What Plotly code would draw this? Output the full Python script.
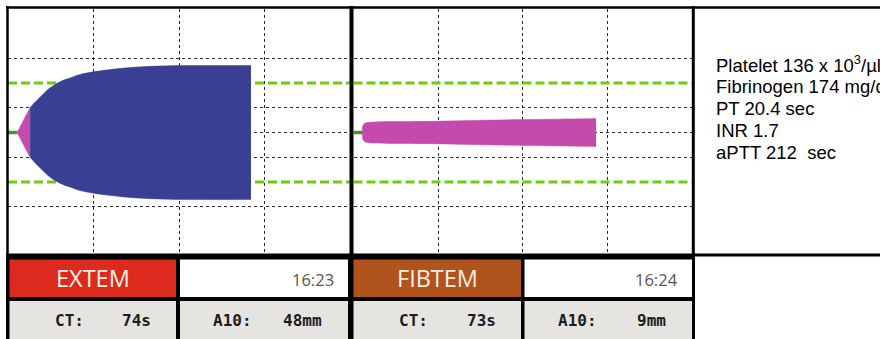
import plotly.graph_objects as go

# ---- assay results -------------------------------------------------------
assays = ["EXTEM", "FIBTEM"]
run_clock = ["16:23", "16:24"]
ct_seconds = [74, 73]
a10_mm = [48, 9]
header_colors = ["#dd2a1e", "#b1531d"]

# ---- amplitude traces: time (min) vs total clot amplitude (mm) -----------
# EXTEM, from CT until amplitude reaches 20 mm (clot formation phase)
extem_cft_t = [1.6, 2.0, 2.4, 2.8, 3.1]
extem_cft_amp = [3.5, 8, 12.5, 17, 20]
# EXTEM, from 20 mm onward
extem_t = [3.1, 3.8, 4.5, 5.2, 5.9, 6.6, 7.3, 8.0, 8.7, 10.1, 12.0, 14.4, 17.6, 22.4, 26.0, 34.1]
extem_amp = [20, 24.5, 28.5, 32.5, 36, 38.8, 41, 42.7, 44, 46.8, 48.9, 50.8, 52.6, 53.8, 54, 54]
# FIBTEM, never reaches 20 mm
fibtem_t = [1.3, 1.45, 1.7, 2.2, 3.0, 5.0, 11.2, 18, 24, 30, 34.4]
fibtem_amp = [4.8, 6.6, 7.6, 8.2, 8.5, 8.8, 9.0, 9.8, 10.4, 10.9, 11.3]

# grid and reference levels (half amplitude, mm)
time_grid = [12, 24, 36]
amp_grid = [-30, -10, 0, 10, 30]
ref_level = 20

# ---- laboratory values ---------------------------------------------------
lab_lines = [
    "Platelet 136 x 10<sup>3</sup>/µl",
    "Fibrinogen 174 mg/dl",
    "PT 20.4 sec",
    "INR 1.7",
    "aPTT 212\u00a0 sec",
]

W, H = 880, 339
BLUE = "#393f93"
PINK = "#c44bab"
GREEN_BASE = "#3a9a22"
GREEN_REF = "#6fcc0c"


def px(x):
    return x / W


def py(y):
    return 1 - y / H


fig = go.Figure()


def add_trace_set(xa, ya, pink_t, pink_amp, blue_t, blue_amp, ct_min):
    t_max = 48
    # reference lines at +/- 20 mm
    for s in (1, -1):
        fig.add_trace(go.Scatter(x=[0, t_max], y=[s * ref_level] * 2, mode="lines",
                                 line=dict(color=GREEN_REF, width=3, dash="9px,4px"),
                                 xaxis=xa, yaxis=ya, hoverinfo="skip"))
    # flat line before clotting time
    fig.add_trace(go.Scatter(x=[0, ct_min], y=[0, 0], mode="lines",
                             line=dict(color=GREEN_BASE, width=3.5),
                             xaxis=xa, yaxis=ya, hoverinfo="skip"))
    segments = [(pink_t, pink_amp, PINK)]
    if blue_t:
        segments.append((blue_t, blue_amp, BLUE))
    for t, amp, col in segments:
        fig.add_trace(go.Scatter(x=t, y=[-a / 2 for a in amp], mode="lines",
                                 line=dict(color=col, width=0.5, shape="spline", smoothing=1.0),
                                 xaxis=xa, yaxis=ya, hoverinfo="skip"))
        fig.add_trace(go.Scatter(x=t, y=[a / 2 for a in amp], mode="lines",
                                 line=dict(color=col, width=0.5, shape="spline", smoothing=1.0),
                                 fill="tonexty", fillcolor=col,
                                 xaxis=xa, yaxis=ya, hoverinfo="skip"))


ct0 = ct_seconds[0] / 60
ct1 = ct_seconds[1] / 60
add_trace_set("x", "y", [ct0] + extem_cft_t, [0] + extem_cft_amp, extem_t, extem_amp, ct0)
add_trace_set("x2", "y2", [ct1] + fibtem_t, [0] + fibtem_amp, None, None, ct1)


def grid_x(domain, anchor):
    return dict(domain=domain, range=[0, 48], tickvals=time_grid, showticklabels=False,
                ticks="", showgrid=True, gridcolor="#2a2a2a", gridwidth=1,
                griddash="3px,3px", zeroline=False, showline=False, anchor=anchor,
                fixedrange=True)


def grid_y(domain, anchor):
    return dict(domain=domain, range=[-50, 50], tickvals=amp_grid, showticklabels=False,
                ticks="", showgrid=True, gridcolor="#2a2a2a", gridwidth=1,
                griddash="3px,3px", zeroline=False, showline=False, anchor=anchor,
                fixedrange=True)


ydom = [py(256.5), py(8.5)]
fig.update_layout(
    width=W, height=H, margin=dict(l=0, r=0, t=0, b=0),
    paper_bgcolor="white", plot_bgcolor="white", showlegend=False,
    xaxis=grid_x([px(8), px(350)], "y"),
    yaxis=grid_y(ydom, "x"),
    xaxis2=grid_x([px(353.5), px(692)], "y2"),
    yaxis2=grid_y(ydom, "x2"),
)

shapes = []


def rect(x0, y0, x1, y1, color):
    shapes.append(dict(type="rect", xref="paper", yref="paper",
                       x0=px(x0), x1=px(x1), y0=py(y1), y1=py(y0),
                       fillcolor=color, line=dict(width=0), layer="above"))


def hline(x0, x1, y, w):
    shapes.append(dict(type="line", xref="paper", yref="paper",
                       x0=px(x0), x1=px(x1), y0=py(y), y1=py(y),
                       line=dict(color="black", width=w), layer="above"))


def vline(x, y0, y1, w):
    shapes.append(dict(type="line", xref="paper", yref="paper",
                       x0=px(x), x1=px(x), y0=py(y0), y1=py(y1),
                       line=dict(color="black", width=w), layer="above"))


# result strip below the traces
rect(6, 253.5, 695, 345, "black")
cols = [(9.5, 176), (180, 348), (353.5, 521), (524.5, 692)]
row1 = (259.5, 297)
row2 = (301, 345)
rect(cols[0][0], row1[0], cols[0][1], row1[1], header_colors[0])
rect(cols[1][0], row1[0], cols[1][1], row1[1], "white")
rect(cols[2][0], row1[0], cols[2][1], row1[1], header_colors[1])
rect(cols[3][0], row1[0], cols[3][1], row1[1], "white")
for c in cols:
    rect(c[0], row2[0], c[1], row2[1], "#e5e4e0")

# frame lines
hline(6, 880, 7.5, 2.5)
hline(693, 880, 255, 3)
vline(7.5, 6, 339, 2.5)
vline(351.5, 6, 256, 4)
vline(693.3, 6, 256, 3)

annotations = []


def text(x, y, s, size, color, family, anchor="center", weight="normal"):
    annotations.append(dict(xref="paper", yref="paper", x=px(x), y=py(y), text=s,
                            showarrow=False, xanchor=anchor, yanchor="middle",
                            font=dict(size=size, color=color, family=family, weight=weight)))


mono = "DejaVu Sans Mono"
head = "Open Sans"
ry1 = (row1[0] + row1[1]) / 2
ry2 = 320
for i in range(2):
    c_head, c_time = cols[2 * i], cols[2 * i + 1]
    text((c_head[0] + c_head[1]) / 2, ry1 - 0.5, assays[i], 23.5, "#fcefe8", head)
    text(c_time[1] - 12, ry1 + 1, run_clock[i], 16.5, "#555555", head, anchor="right")
    text(c_head[0] + 43, ry2, "CT:", 16, "#1c1c1c", mono, anchor="left", weight="bold")
    text(c_head[1] - 23, ry2, f"{ct_seconds[i]}s", 16, "#1c1c1c", mono,
         anchor="right", weight="bold")
    text(c_time[0] + 31, ry2, "A10:", 16, "#1c1c1c", mono, anchor="left", weight="bold")
    text(c_time[1] - 24, ry2, f"{a10_mm[i]}mm", 16, "#1c1c1c", mono,
         anchor="right", weight="bold")

lab_y = [64, 86, 108, 130, 152]
for s, y in zip(lab_lines, lab_y):
    text(714, y, s, 18.5, "black", "Liberation Sans, Arial", anchor="left")

fig.update_layout(shapes=shapes, annotations=annotations)
fig.write_html("out.html")
